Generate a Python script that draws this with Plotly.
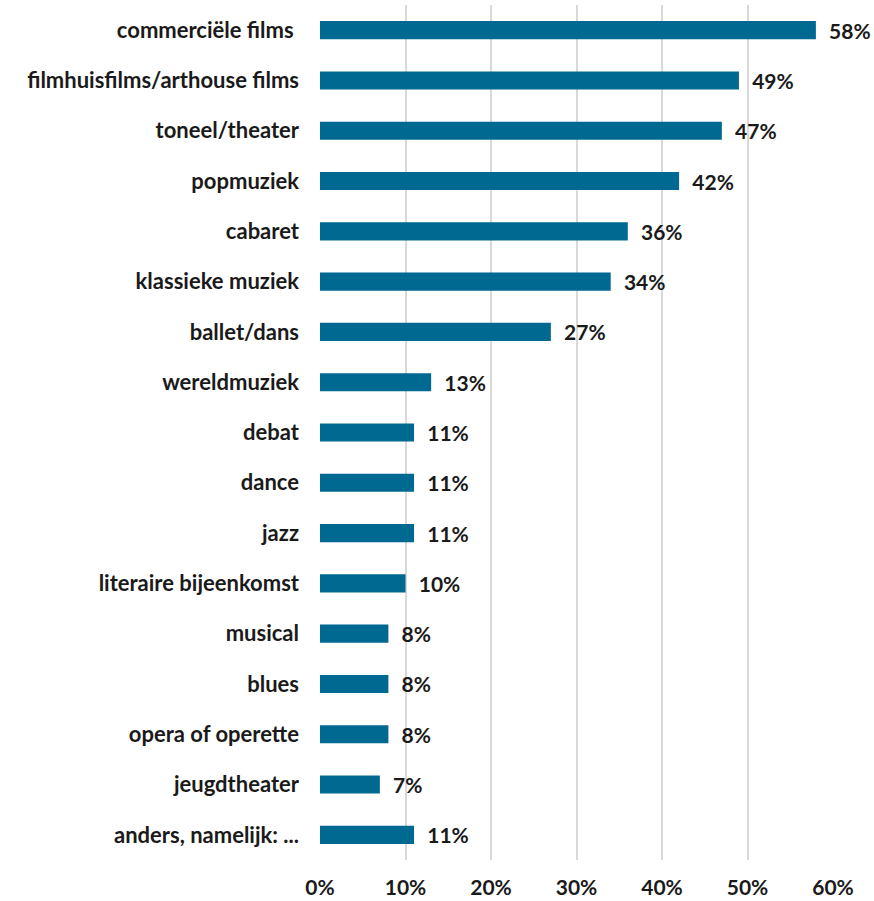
import plotly.graph_objects as go

categories = ["commerciële films ", "filmhuisfilms/arthouse films", "toneel/theater", "popmuziek",
              "cabaret", "klassieke muziek", "ballet/dans", "wereldmuziek", "debat", "dance",
              "jazz", "literaire bijeenkomst", "musical", "blues", "opera of operette",
              "jeugdtheater", "anders, namelijk: ..."]
values = [58, 49, 47, 42, 36, 34, 27, 13, 11, 11, 11, 10, 8, 8, 8, 7, 11]
tick_vals = [0, 10, 20, 30, 40, 50, 60]
tick_text = ["0%", "10%", "20%", "30%", "40%", "50%", "60%"]

FONT = "Lato"
fig = go.Figure(go.Bar(
    y=categories, x=values, orientation="h",
    marker=dict(color="#006991", line=dict(width=0)),
    width=0.36,
    text=[f"  {v}%" for v in values], textposition="outside",
    constraintext="none",
    textfont=dict(family=FONT, size=21, color="#1a1a1a", weight="bold"),
    cliponaxis=False,
))
fig.update_layout(
    width=874, height=901,
    margin=dict(l=320, r=41, t=5, b=41),
    plot_bgcolor="white", paper_bgcolor="white",
    showlegend=False,
    xaxis=dict(range=[0, 60], tickvals=tick_vals, ticktext=tick_text, automargin=False,
               showgrid=True, gridcolor="#d9d9d9", gridwidth=2, zeroline=False,
               showline=False, ticks="", ticklabelstandoff=13,
               tickfont=dict(family=FONT, size=21, color="#1a1a1a", weight="bold")),
    yaxis=dict(autorange="reversed", showgrid=False, showline=False, ticks="",
               ticklabelstandoff=20, automargin=False,
               tickfont=dict(family=FONT, size=22, color="#1a1a1a", weight="bold")),
)
fig.write_html("out.html", config={"displayModeBar": False},
               post_script="document.body.style.margin='0';")
